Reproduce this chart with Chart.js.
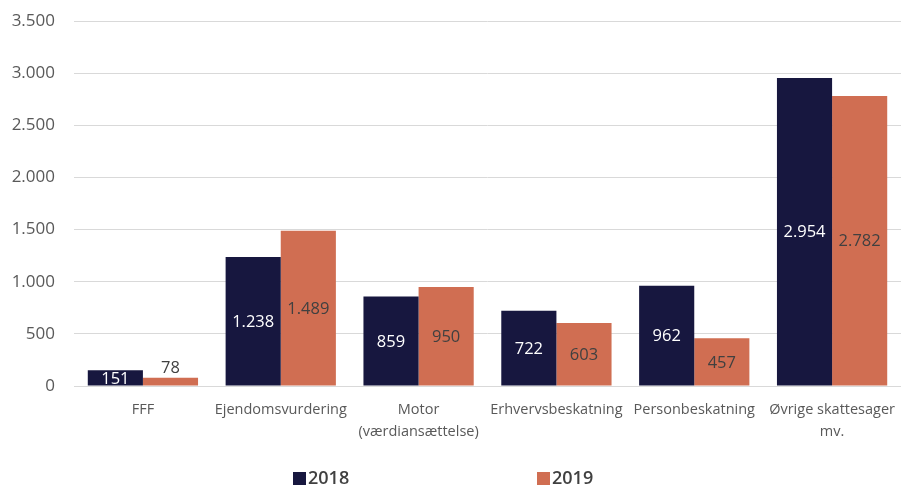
<!DOCTYPE html>
<html><head><meta charset="utf-8">
<script src="https://cdn.jsdelivr.net/npm/chart.js@4/dist/chart.umd.min.js"></script>
<style>html,body{margin:0;padding:0;background:#fff;}#wrap{width:901px;height:486px;}</style>
</head><body><div id="wrap"><canvas id="c" width="901" height="486"></canvas></div>
<script>
const categories = [["FFF"], ["Ejendomsvurdering"], ["Motor", "(værdiansættelse)"], ["Erhvervsbeskatning"], ["Personbeskatning"], ["Øvrige skattesager", "mv."]];
const seriesNames = ["2018", "2019"];
const values2018 = [151, 1238, 859, 722, 962, 2954];
const values2019 = [78, 1489, 950, 603, 457, 2782];
const yTicks = [0, 500, 1000, 1500, 2000, 2500, 3000, 3500];

const FONT = "'Open Sans', sans-serif";
const colors = ['#17173f', '#d06e52'];
const labelColors = ['#ffffff', '#404040'];
const fmt = v => String(v).replace(/\B(?=(\d{3})+(?!\d))/g, '.');

const labelPlugin = {
  id: 'barLabels',
  afterDatasetsDraw(chart) {
    const ctx = chart.ctx;
    ctx.save();
    ctx.font = "16.5px " + FONT;
    ctx.textAlign = 'center';
    ctx.textBaseline = 'middle';
    chart.data.datasets.forEach((ds, di) => {
      chart.getDatasetMeta(di).data.forEach((bar, i) => {
        const v = ds.data[i];
        const h = bar.base - bar.y;
        if (h < 12) {
          ctx.fillStyle = '#404040';
          ctx.fillText(fmt(v), bar.x, bar.y - 10);
        } else {
          ctx.fillStyle = labelColors[di];
          ctx.fillText(fmt(v), bar.x, (bar.y + bar.base) / 2 + 1);
        }
      });
    });
    ctx.restore();
  }
};

const legendPlugin = {
  id: 'customLegend',
  afterDraw(chart) {
    const ctx = chart.ctx;
    ctx.save();
    ctx.font = "600 18px " + FONT;
    ctx.textBaseline = 'middle';
    const xs = [293, 537];
    const y = 478;
    seriesNames.forEach((n, i) => {
      ctx.fillStyle = colors[i];
      ctx.fillRect(xs[i], y - 6, 13, 13);
      ctx.fillStyle = '#404040';
      ctx.textAlign = 'left';
      ctx.fillText(n, xs[i] + 15, y + 1);
    });
    ctx.restore();
  }
};

new Chart(document.getElementById('c'), {
  type: 'bar',
  data: {
    labels: categories,
    datasets: [
      { label: seriesNames[0], data: values2018, backgroundColor: colors[0], categoryPercentage: 0.8, barPercentage: 1.0 },
      { label: seriesNames[1], data: values2019, backgroundColor: colors[1], categoryPercentage: 0.8, barPercentage: 1.0 }
    ]
  },
  options: {
    responsive: false,
    animation: false,
    devicePixelRatio: 1,
    layout: { padding: { top: 21, right: 0, left: 0, bottom: 0 } },
    plugins: { legend: { display: false }, tooltip: { enabled: false } },
    scales: {
      x: {
        grid: { display: false, drawTicks: false },
        border: { display: true, color: '#d9d9d9', width: 1 },
        ticks: { color: '#595959', font: { family: FONT, size: 14.5, lineHeight: 1.5 }, padding: 13, maxRotation: 0, autoSkip: false },
        afterFit(s) { s.height = 100; s.paddingLeft = 0; s.paddingRight = 0; }
      },
      y: {
        min: 0, max: 3500,
        afterBuildTicks(s) { s.ticks = yTicks.map(v => ({ value: v })); },
        grid: { color: '#d9d9d9', drawTicks: true, tickLength: 17, tickColor: 'rgba(0,0,0,0)' },
        border: { display: false },
        ticks: { color: '#595959', font: { family: FONT, size: 17 }, padding: 2, callback: v => fmt(v) },
        afterFit(s) { s.width = 74; }
      }
    }
  },
  plugins: [labelPlugin, legendPlugin]
});
</script></body></html>
